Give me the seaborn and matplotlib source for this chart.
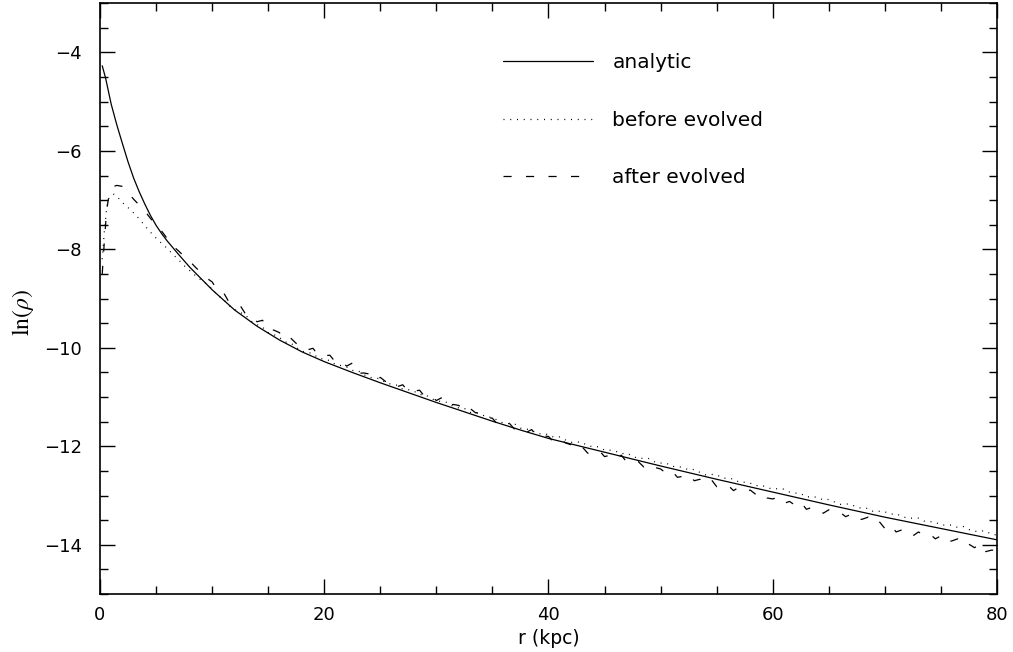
import numpy as np
import pandas as pd
import matplotlib
matplotlib.use("Agg")
import matplotlib.pyplot as plt
from matplotlib.ticker import MultipleLocator
import seaborn as sns

# ---------------- data ----------------
r_analytic = [0.2, 0.5, 1.0, 1.5, 2.0, 2.5, 3.0, 3.5, 4.0, 4.5, 5.0, 5.5, 6.0, 7.0, 8.0,
              9.0, 10.0, 12.0, 14.0, 16.0, 18.0, 20.0, 22.5, 25.0, 27.5, 30.0, 32.5,
              35.0, 37.5, 40.0, 45.0, 50.0, 55.0, 60.0, 65.0, 70.0, 75.0, 80.0]
ln_analytic = [-4.27, -4.52, -5.05, -5.47, -5.85, -6.22, -6.55, -6.83, -7.08, -7.31,
               -7.51, -7.68, -7.83, -8.10, -8.36, -8.59, -8.82, -9.23, -9.56, -9.84,
               -10.08, -10.28, -10.50, -10.71, -10.91, -11.11, -11.30, -11.49, -11.67,
               -11.84, -12.12, -12.40, -12.67, -12.93, -13.19, -13.44, -13.67, -13.90]

r_core = [0.2, 0.4, 0.6, 0.8, 1.0, 1.25, 1.5, 2.0, 2.5, 3.0, 3.5, 4.0, 4.5, 5.0, 5.5,
          6.0, 6.5, 7.0, 7.5, 8.0, 8.5, 9.0, 9.5]
r_outer = [10.0 + 0.5 * k for k in range(141)]

ln_before_core = [-8.20, -7.60, -7.15, -6.95, -6.90, -6.88, -6.92, -7.05, -7.15, -7.26,
                  -7.38, -7.52, -7.65, -7.77, -7.88, -7.98, -8.10, -8.21, -8.33, -8.43,
                  -8.53, -8.62, -8.70]
ln_before_outer = [
    -8.80, -8.94, -9.01, -9.14, -9.22, -9.28, -9.34, -9.46, -9.53, -9.58,
    -9.69, -9.73, -9.79, -9.88, -9.90, -9.99, -10.07, -10.09, -10.12, -10.21,
    -10.23, -10.26, -10.34, -10.36, -10.39, -10.46, -10.46, -10.54, -10.60, -10.61,
    -10.63, -10.71, -10.74, -10.76, -10.84, -10.85, -10.88, -10.95, -10.95, -11.02,
    -11.08, -11.09, -11.11, -11.19, -11.22, -11.23, -11.31, -11.32, -11.35, -11.41,
    -11.41, -11.48, -11.53, -11.54, -11.55, -11.63, -11.65, -11.67, -11.74, -11.75,
    -11.76, -11.82, -11.81, -11.87, -11.92, -11.91, -11.92, -11.99, -12.01, -12.01,
    -12.08, -12.08, -12.10, -12.15, -12.14, -12.20, -12.25, -12.24, -12.25, -12.32,
    -12.34, -12.34, -12.41, -12.41, -12.43, -12.48, -12.47, -12.53, -12.58, -12.57,
    -12.58, -12.64, -12.66, -12.66, -12.73, -12.73, -12.75, -12.80, -12.79, -12.84,
    -12.87, -12.86, -12.87, -12.93, -12.95, -12.96, -13.03, -13.02, -13.04, -13.09,
    -13.08, -13.13, -13.18, -13.17, -13.18, -13.24, -13.26, -13.26, -13.33, -13.32,
    -13.33, -13.38, -13.37, -13.42, -13.46, -13.46, -13.46, -13.52, -13.53, -13.54,
    -13.60, -13.60, -13.60, -13.65, -13.63, -13.69, -13.73, -13.72, -13.72, -13.79,
    -13.80]

ln_after_core = [-8.50, -7.80, -7.20, -6.90, -6.78, -6.72, -6.70, -6.72, -6.85, -6.98,
                 -7.10, -7.22, -7.37, -7.50, -7.63, -7.78, -7.93, -8.03, -8.14, -8.24,
                 -8.36, -8.47, -8.58]
ln_after_outer = [
    -8.66, -8.84, -8.87, -9.07, -9.11, -9.14, -9.32, -9.34, -9.47, -9.44,
    -9.63, -9.64, -9.69, -9.84, -9.80, -9.91, -9.92, -10.04, -10.01, -10.16,
    -10.16, -10.15, -10.29, -10.28, -10.37, -10.31, -10.52, -10.51, -10.53, -10.66,
    -10.60, -10.69, -10.68, -10.79, -10.75, -10.89, -10.88, -10.86, -11.00, -10.98,
    -11.07, -11.01, -11.17, -11.15, -11.17, -11.29, -11.23, -11.32, -11.31, -11.41,
    -11.43, -11.57, -11.55, -11.53, -11.66, -11.64, -11.72, -11.66, -11.81, -11.79,
    -11.80, -11.92, -11.85, -11.93, -11.97, -12.06, -12.01, -12.14, -12.12, -12.08,
    -12.21, -12.18, -12.26, -12.18, -12.33, -12.30, -12.31, -12.42, -12.35, -12.43,
    -12.46, -12.55, -12.50, -12.63, -12.61, -12.57, -12.70, -12.67, -12.75, -12.67,
    -12.82, -12.78, -12.79, -12.90, -12.83, -12.91, -12.89, -12.98, -12.93, -13.05,
    -13.07, -13.03, -13.16, -13.12, -13.20, -13.13, -13.28, -13.24, -13.25, -13.36,
    -13.29, -13.36, -13.34, -13.43, -13.38, -13.50, -13.48, -13.44, -13.57, -13.53,
    -13.67, -13.59, -13.74, -13.70, -13.70, -13.82, -13.74, -13.81, -13.78, -13.88,
    -13.82, -13.95, -13.92, -13.88, -14.02, -13.99, -14.06, -13.98, -14.14, -14.11,
    -14.11]

series_labels = ["analytic", "before evolved", "after evolved"]
x_label = "r (kpc)"
y_label = r"$\ln(\rho)$"

# ---------------- plot ----------------
sns.set_style("ticks")
plt.rcParams["font.family"] = ["DejaVu Sans"]
plt.rcParams["mathtext.fontset"] = "stix"
plt.rcParams["text.color"] = "black"
plt.rcParams["axes.labelcolor"] = "black"
plt.rcParams["xtick.color"] = "black"
plt.rcParams["ytick.color"] = "black"

fig = plt.figure(figsize=(10.13, 6.52), dpi=100)
ax = fig.add_axes([0.0987, 0.089, 0.8855, 0.906])

r_noisy = r_core + r_outer
sns.lineplot(x=r_analytic, y=ln_analytic, ax=ax, color="black", lw=0.9,
             label=series_labels[0], sort=False)
sns.lineplot(x=r_noisy, y=ln_before_core + ln_before_outer, ax=ax, color="black",
             lw=0.9, linestyle=(0, (0.8, 4.6)), label=series_labels[1], sort=False)
sns.lineplot(x=r_noisy, y=ln_after_core + ln_after_outer, ax=ax, color="black",
             lw=0.9, linestyle=(0, (6.5, 11.5)), label=series_labels[2], sort=False)

ax.set_xlim(0, 80)
ax.set_ylim(-15, -3)
ax.xaxis.set_major_locator(MultipleLocator(20))
ax.xaxis.set_minor_locator(MultipleLocator(5))
ax.yaxis.set_major_locator(MultipleLocator(2))
ax.yaxis.set_minor_locator(MultipleLocator(0.5))
ax.tick_params(which="both", direction="in", top=True, right=True, color="black",
               labelcolor="black", width=1.0)
ax.tick_params(which="major", length=11, labelsize=13)
ax.tick_params(axis="x", which="major", pad=9)
ax.tick_params(axis="y", which="major", pad=13)
ax.tick_params(which="minor", length=6)
for s in ax.spines.values():
    s.set_visible(True)
    s.set_linewidth(1.2)
    s.set_color("black")

ax.set_xlabel(x_label, fontsize=13.5, labelpad=3, color="black")
ax.set_ylabel(y_label, fontsize=17, color="black")
ax.yaxis.set_label_coords(-0.071, 0.477)

leg = ax.legend(loc="upper left", bbox_to_anchor=(0.449, 0.915), frameon=False,
                fontsize=14.5, handlelength=4.5, handletextpad=0.95,
                labelspacing=1.9, borderpad=0, borderaxespad=0)
for line in leg.get_lines():
    line.set_linewidth(0.9)
for t in leg.get_texts():
    t.set_color("black")

fig.savefig("out.png", dpi=100)
